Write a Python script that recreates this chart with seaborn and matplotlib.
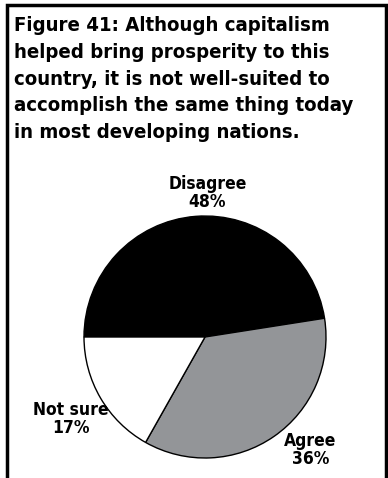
import matplotlib
matplotlib.use('Agg')
import matplotlib.pyplot as plt
import seaborn as sns
from matplotlib import font_manager
from matplotlib.patches import Rectangle

sns.set_theme(style='white')
plt.rcParams['font.family'] = ['DejaVu Sans']
plt.rcParams['text.color'] = 'black'

labels = ['Disagree', 'Agree', 'Not sure']
values = [48, 36, 17]
colors = ['#000000', '#939598', '#ffffff']
title = ('Figure 41: Although capitalism\nhelped bring prosperity to this\n'
         'country, it is not well-suited to\naccomplish the same thing today\n'
         'in most developing nations.')

# slice labels are set in a very narrow face; use a narrow one if there is one
installed = {f.name for f in font_manager.fontManager.ttflist}
label_font = 'Liberation Sans Narrow' if 'Liberation Sans Narrow' in installed else 'DejaVu Sans'

W, H = 388, 478
fig = plt.figure(figsize=(W / 100, H / 100), dpi=100)
fig.patch.set_facecolor('white')

# frame, open at the bottom
fig.add_artist(Rectangle((6.5 / W, -0.1), (385.5 - 6.5) / W, 1.1 - 5 / H,
                         transform=fig.transFigure, fill=False,
                         edgecolor='black', linewidth=2.5))

fig.text(14 / W, 1 - 16 / H, title, ha='left', va='top', fontsize=14.6,
         fontweight='bold', fontstretch='condensed', linespacing=1.52)

cx, cy, r = 205, 337, 121
ax = fig.add_axes([(cx - r) / W, (H - cy - r) / H, 2 * r / W, 2 * r / H])
ax.pie(values, colors=colors, startangle=180, counterclock=False,
       wedgeprops=dict(edgecolor='black', linewidth=1.0))
ax.set_xlim(-1, 1)
ax.set_ylim(-1, 1)
ax.axis('off')
for w in ax.patches:
    w.set_clip_on(False)

pos = {'Disagree': (0.02, 1.19), 'Agree': (0.87, -0.93), 'Not sure': (-1.11, -0.68)}
for lab, v in zip(labels, values):
    x, y = pos[lab]
    ax.text(x, y, f'{lab}\n{v}%', ha='center', va='center', fontsize=12.5,
            family=label_font, fontweight='bold', fontstretch='condensed',
            linespacing=1.0)

fig.savefig('out.png', dpi=100)
